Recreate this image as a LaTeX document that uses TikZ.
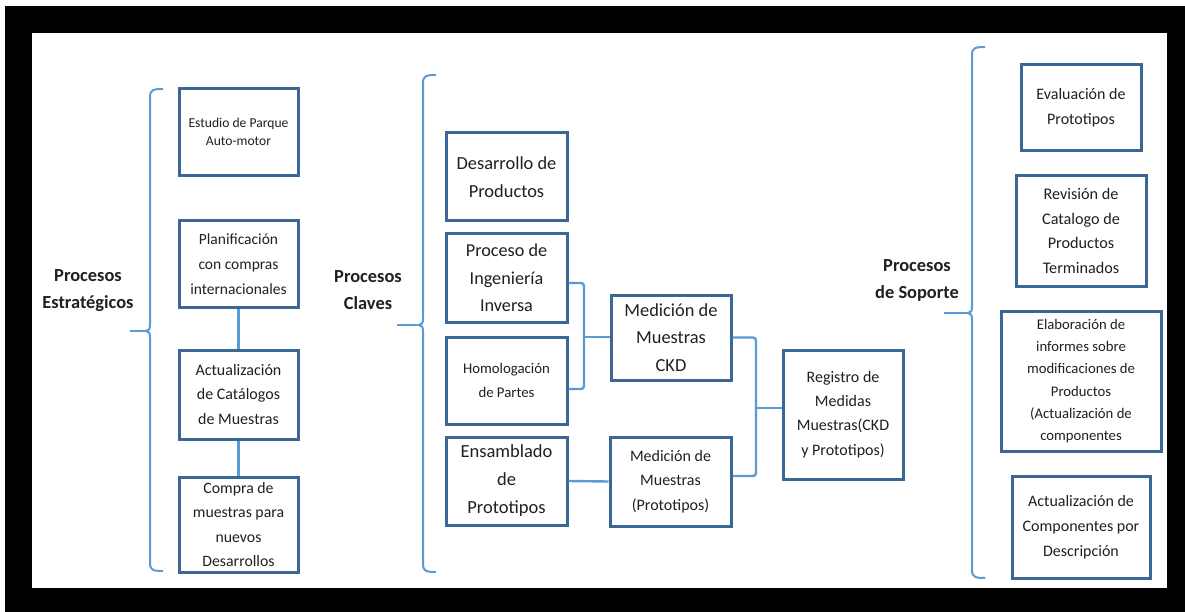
\documentclass[tikz,border=0pt]{standalone}
\usepackage{fontspec}
\setmainfont{Carlito}
\usetikzlibrary{calc}

\definecolor{boxblue}{HTML}{3A6796}
\definecolor{linkblue}{HTML}{5B9BD5}
\definecolor{txt}{HTML}{202020}

\tikzset{
  fnt/.style 2 args={font=\fontsize{#1}{#2}\selectfont},
  procbox/.style={draw=boxblue, line width=3pt, fill=white, align=center,
    inner sep=0pt, text=txt},
  link/.style={draw=linkblue, line width=2.4pt},
  bracestroke/.style={draw=linkblue, line width=2pt},
  grouplabel/.style={align=center, text=txt, font=\fontsize{18.4}{27}\selectfont\bfseries},
}

% curly brace: x, top, bottom, tip y
\newcommand{\procbrace}[4]{%
  \draw[bracestroke] ({#1+13},#2) .. controls ({#1+3},#2) and (#1,{#2+1}) .. (#1,{#2+8})
    -- (#1,{#4-7}) .. controls (#1,{#4-2}) and ({#1-1},#4) .. ({#1-4},#4)
    .. controls ({#1-1},#4) and (#1,{#4+2}) .. (#1,{#4+7})
    -- (#1,{#3-8}) .. controls (#1,{#3-1}) and ({#1+3},#3) .. ({#1+13},#3);}

\begin{document}
\begin{tikzpicture}[x=1pt,y=-1pt]
\useasboundingbox (0,0) rectangle (1185,612);
% frame
\fill[white] (0,0) rectangle (1185,612);
\fill[black] (5,6) rectangle (1185,612);
\fill[white] (32,33) rectangle (1167,588);

% ---- strategic processes
\node[grouplabel] (estr) at (88,290.5) {Procesos\\Estratégicos};
\procbrace{150}{89}{571}{331}
\coordinate (t1a) at (130,331);
\coordinate (t1b) at (146,331);
\draw[bracestroke] (t1a) -- (t1b);

\node[procbox, minimum width=119pt, minimum height=87pt, fnt={13.6}{20.7}]
  (estudio) at (238.5,132.5) {\raisebox{4pt}{\begin{tabular}{@{}c@{}}Estudio de Parque\\[-2pt]Auto-motor\end{tabular}}};
\node[procbox, minimum width=119pt, minimum height=86pt, fnt={15.5}{25}]
  (planif) at (238.5,264) {Planificación\\con compras\\internacionales};
\node[procbox, minimum width=119pt, minimum height=89pt, fnt={16}{24.2}]
  (actual) at (238.5,394.5) {Actualización\\de Catálogos\\de Muestras};
\node[procbox, minimum width=119pt, minimum height=95pt, fnt={15.8}{24.4}]
  (compra) at (238.5,524.5) {Compra de\\muestras para\\nuevos\\Desarrollos};
\draw[link] (planif.south) -- (actual.north);
\draw[link] (actual.south) -- (compra.north);

% ---- key processes
\node[grouplabel] (claves) at (368,290.5) {Procesos\\Claves};
\procbrace{423}{75}{572}{325}
\coordinate (t2a) at (397,325);
\coordinate (t2b) at (419,325);
\draw[bracestroke] (t2a) -- (t2b);

\node[procbox, minimum width=121pt, minimum height=88pt, fnt={18.4}{28}]
  (desarrollo) at (506.5,177) {Desarrollo de\\Productos};
\node[procbox, minimum width=121pt, minimum height=88pt, fnt={18.2}{27.6}]
  (ingenieria) at (506.5,278) {Proceso de\\Ingeniería\\Inversa};
\node[procbox, minimum width=121pt, minimum height=87pt, fnt={14.8}{24.8}]
  (homolog) at (506.5,380.5) {Homologación\\de Partes};
\node[procbox, minimum width=121pt, minimum height=88pt, fnt={18.5}{28}]
  (ensamblado) at (506.5,481) {Ensamblado\\de\\Prototipos};
\node[procbox, minimum width=120pt, minimum height=85pt, fnt={18.4}{27.6}]
  (medckd) at (671,337.5) {Medición de\\Muestras\\CKD};
\node[procbox, minimum width=121pt, minimum height=89pt, fnt={16}{24.5}]
  (medprot) at (670.5,481.5) {Medición de\\Muestras\\(Prototipos)};
\node[procbox, minimum width=120pt, minimum height=129pt, fnt={16}{24.2}]
  (registro) at (843,414.5) {Registro de\\Medidas\\Muestras(CKD\\y Prototipos)};

\coordinate (j1) at (584,337);
\draw[link, rounded corners=3pt] ([yshift=-5pt]ingenieria.east) -| (j1)
  |- ([yshift=-8.5pt]homolog.east);
\draw[link] (j1) -- (j1 -| medckd.west);
\draw[link] (ensamblado.east) -- (medprot.west);
\coordinate (j2) at (756,408);
\draw[link, rounded corners=3pt] (medckd.east) -| (j2)
  |- ([yshift=5.5pt]medprot.east);
\draw[link] (j2) -- (j2 -| registro.west);

% ---- support processes
\node[grouplabel] (soporte) at (917,280) {Procesos\\de Soporte};
\procbrace{972}{47}{578}{313}
\coordinate (t3a) at (944,313);
\coordinate (t3b) at (968,313);
\draw[bracestroke] (t3a) -- (t3b);

\node[procbox, minimum width=120pt, minimum height=86pt, fnt={16}{25}]
  (evaluacion) at (1081,108) {Evaluación de\\Prototipos};
\node[procbox, minimum width=130pt, minimum height=110pt, fnt={16.2}{24.5}]
  (revision) at (1081,231) {Revisión de\\Catalogo de\\Productos\\Terminados};
\node[procbox, minimum width=160pt, minimum height=140pt, fnt={14.7}{22.3}]
  (elaboracion) at (1081,381) {Elaboración de\\informes sobre\\modificaciones de\\Productos\\(Actualización de\\componentes};
\node[procbox, minimum width=138pt, minimum height=102pt, fnt={16}{24.8}]
  (actcomp) at (1081,527) {Actualización de\\Componentes por\\Descripción};
\end{tikzpicture}
\end{document}
